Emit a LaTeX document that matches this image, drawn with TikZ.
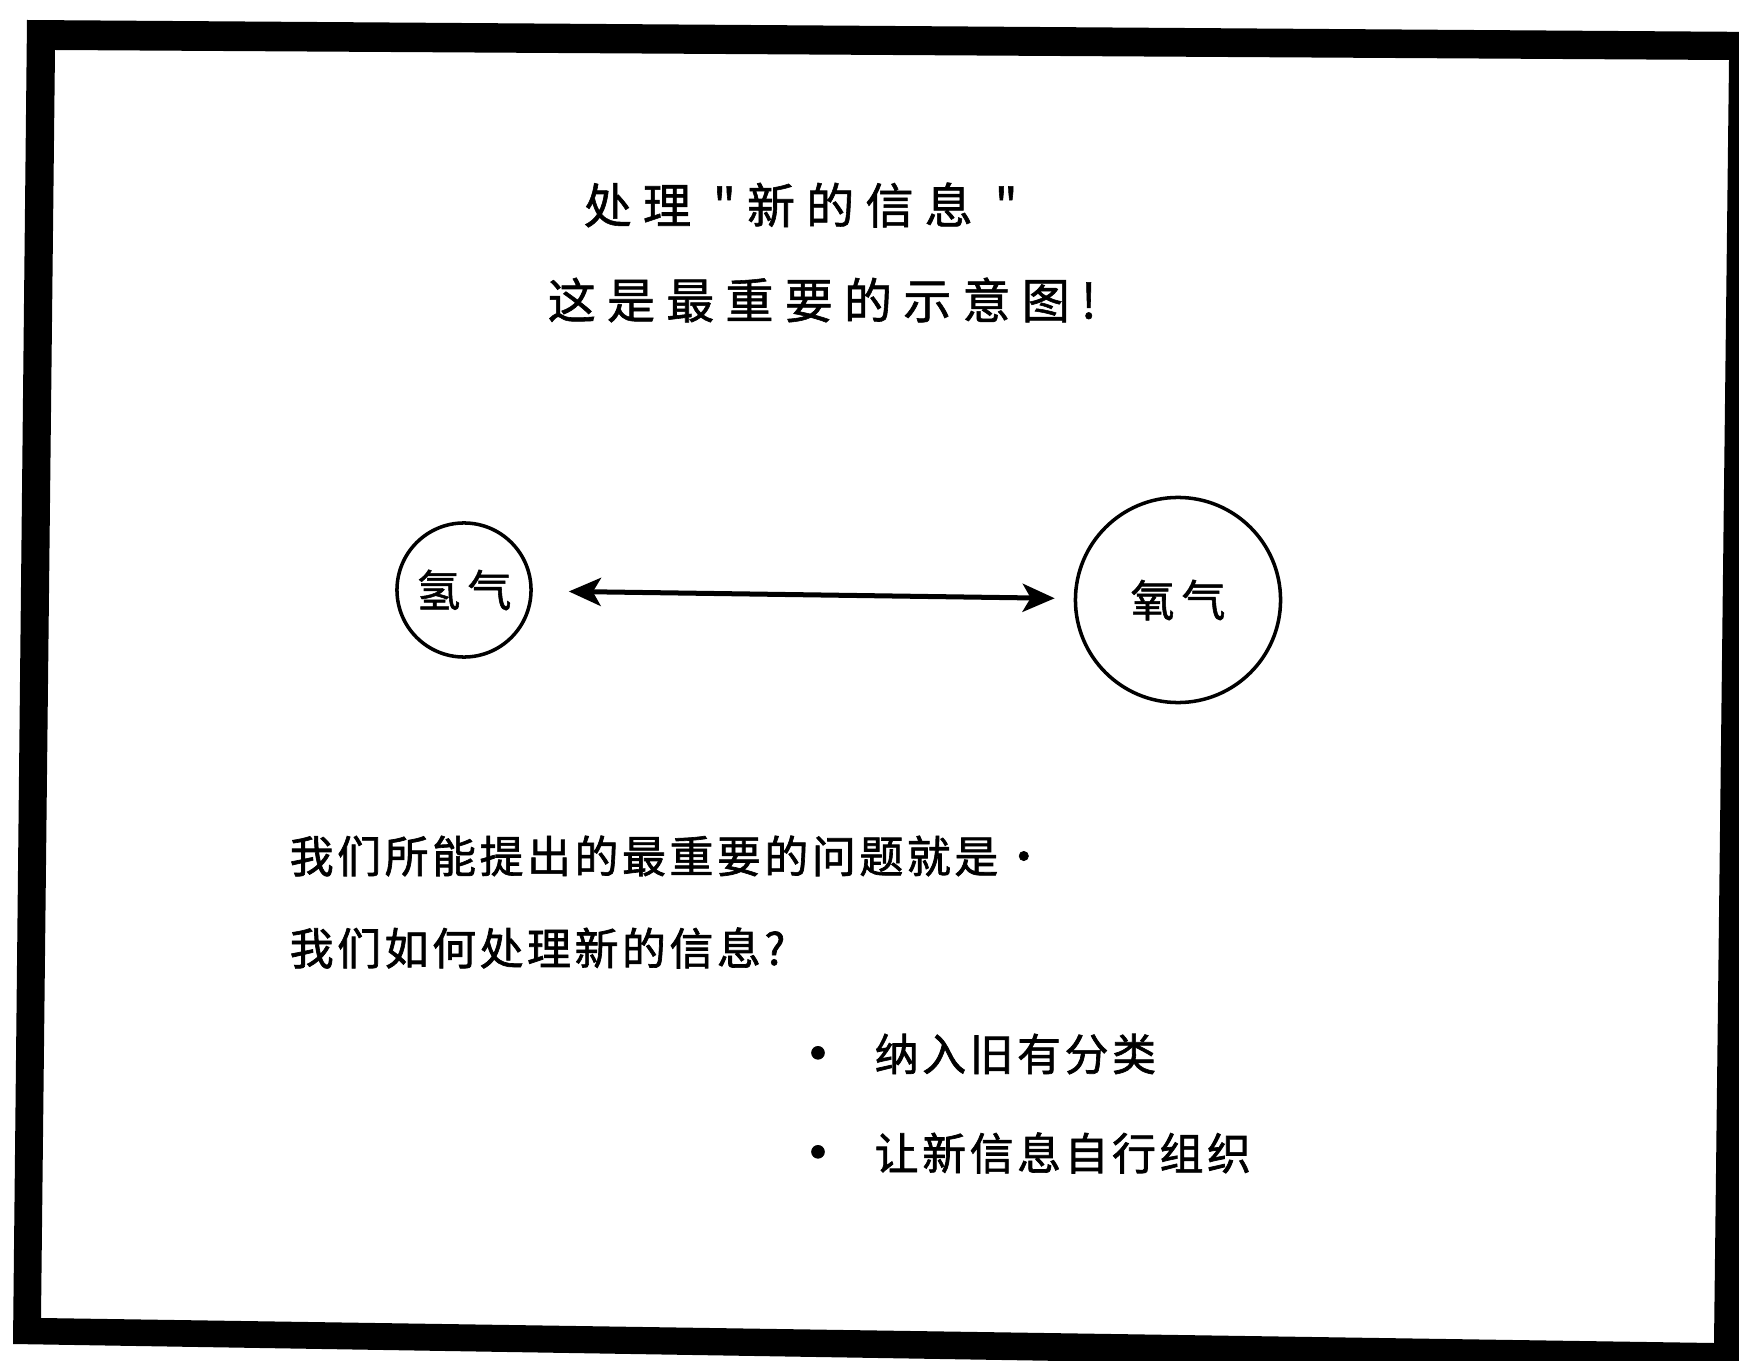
\documentclass[tikz,border=0pt]{standalone}
\usepackage{fontspec}
\usepackage{tikz}
\usetikzlibrary{arrows.meta,positioning}
\newfontfamily\titlecjk[LetterSpace=23,FakeBold=1.2]{Noto Sans CJK SC}
\newfontfamily\gascjk[LetterSpace=16,FakeBold=1.2]{Noto Sans CJK SC}
\newfontfamily\bodycjk[LetterSpace=8,FakeBold=1.5]{Noto Sans CJK SC}

\begin{document}
\begin{tikzpicture}[x=0.01cm,y=-0.01cm,
  heading/.style={inner sep=0pt,anchor=west,
                  font={\titlecjk\fontsize{13.7}{16}\selectfont}},
  gas/.style={draw,circle,line width=1pt,inner sep=0pt,
              font={\gascjk\fontsize{12.5}{15}\selectfont}},
  para/.style={inner sep=0pt,anchor=west,
               font={\bodycjk\fontsize{12.5}{15}\selectfont}},
  dot/.style={inner sep=0pt,font={\bodycjk\fontsize{17}{20}\selectfont}},
  link/.style={line width=0.05cm,
               {Stealth[length=0.32cm,width=0.28cm,inset=0.08cm]}-{Stealth[length=0.32cm,width=0.28cm,inset=0.08cm]}},
]
  \useasboundingbox (0,0) rectangle (1739,1361);
  % thick frame
  \begin{scope}
    \clip (0,0) rectangle (1739,1361);
    \fill[even odd rule] (27,20) -- (1762,32) -- (1744,1372) -- (13,1344) -- cycle
      (55,50) -- (1729,60) -- (1714,1343) -- (41,1318) -- cycle;
  \end{scope}
  % title
  \node[heading] (head1) at (583,205) {处理 "新的信息 "};
  \node[heading] (head2) at (547,300) {这是最重要的示意图!};
  % the two gases
  \node[gas,minimum size=1.34cm] (hyd) at (464,590) {氢气};
  \node[gas,minimum size=2.05cm] (oxy) at (1178,600) {氧气};
  \draw[link,shorten <=0.36cm,shorten >=0.19cm] (hyd) -- (oxy);
  % question
  \node[para] (q1) at (289,856) {我们所能提出的最重要的问题就是·};
  \node[para] (q2) at (289,948) {我们如何处理新的信息?};
  \node[dot] (b1) at (818,1061) {•};
  \node[para] (a1) at (874,1054) {纳入旧有分类};
  \node[dot] (b2) at (818,1160) {•};
  \node[para] (a2) at (874,1153) {让新信息自行组织};
\end{tikzpicture}
\end{document}
